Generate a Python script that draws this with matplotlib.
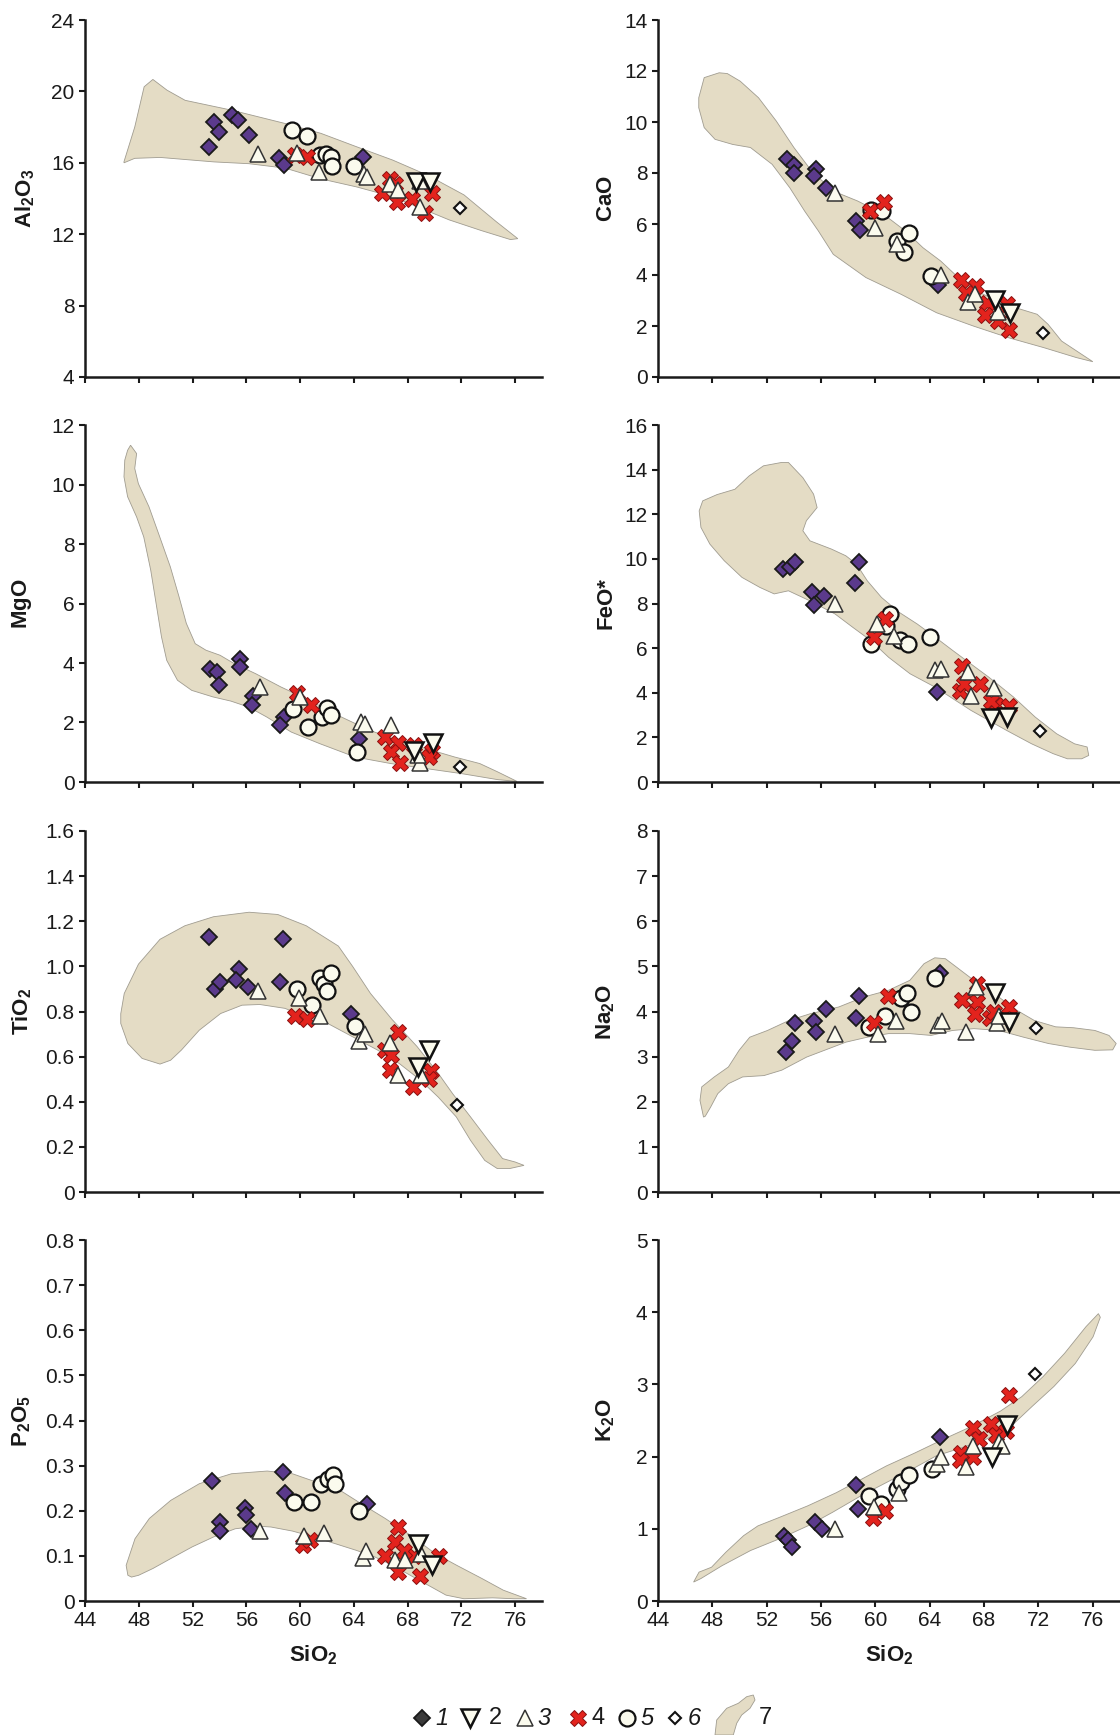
import matplotlib
matplotlib.use("Agg")
import numpy as np
from matplotlib import pyplot as plt
from matplotlib.patches import Polygon
from matplotlib.ticker import FuncFormatter

plt.rcParams['font.family'] = ['Liberation Sans', 'DejaVu Sans']
plt.rcParams['mathtext.fontset'] = 'custom'
plt.rcParams['mathtext.rm'] = 'Liberation Sans'
plt.rcParams['mathtext.bf'] = 'Liberation Sans:bold'
plt.rcParams['mathtext.it'] = 'Liberation Sans:italic'

# ---------------- data: (SiO2, oxide) per group ----------------
al2o3 = {
    1: [(53.2, 16.9), (53.6, 18.3), (54.0, 17.7), (54.9, 18.7), (55.4, 18.4), (56.2, 17.55), (58.4, 16.25), (58.8, 15.9), (64.7, 16.3)],
    5: [(59.4, 17.85), (60.5, 17.5), (61.45, 16.45), (61.9, 16.5), (62.3, 16.3), (62.35, 15.8), (64.0, 15.8)],
    4: [(59.6, 16.45), (60.5, 16.3), (66.1, 14.3), (66.7, 15.1), (67.1, 14.8), (67.2, 13.8), (68.3, 13.95), (69.3, 13.2), (69.8, 14.3)],
    3: [(56.85, 16.5), (59.8, 16.55), (61.4, 15.5), (64.75, 15.35), (65.0, 15.2), (66.7, 14.8), (67.3, 14.5), (68.9, 13.5), (68.9, 15.0)],
    2: [(68.6, 14.9), (69.7, 14.9)],
    6: [(71.9, 13.45)],
}
cao = {
    1: [(53.5, 8.55), (54.0, 8.3), (54.0, 8.0), (55.6, 8.15), (55.5, 7.9), (56.4, 7.4), (58.6, 6.1), (58.85, 5.75), (64.6, 3.6)],
    5: [(59.7, 6.55), (60.5, 6.5), (61.6, 5.35), (62.1, 4.9), (62.5, 5.65), (64.1, 3.95)],
    4: [(59.6, 6.5), (60.6, 6.85), (66.3, 3.8), (67.4, 3.55), (66.7, 3.3), (68.2, 2.9), (68.1, 2.45), (69.7, 2.85), (69.8, 1.85), (69.0, 2.2)],
    3: [(57.0, 7.2), (60.0, 5.85), (61.6, 5.2), (64.8, 4.0), (66.8, 2.95), (67.3, 3.25), (69.0, 2.55)],
    2: [(68.8, 3.0), (69.9, 2.5)],
    6: [(72.3, 1.74)],
}
mgo = {
    1: [(53.3, 3.8), (53.8, 3.7), (54.0, 3.25), (55.5, 4.15), (55.5, 3.85), (56.5, 2.9), (56.4, 2.6), (58.8, 2.2), (58.5, 1.9), (64.4, 1.45)],
    5: [(59.5, 2.45), (60.6, 1.85), (61.6, 2.2), (62.0, 2.5), (62.3, 2.25), (64.2, 1.0)],
    4: [(59.8, 3.0), (60.8, 2.6), (66.3, 1.5), (67.3, 1.3), (66.75, 1.0), (67.4, 0.65), (68.5, 1.25), (69.8, 1.05), (69.6, 0.85)],
    3: [(57.0, 3.2), (60.0, 2.85), (64.5, 2.0), (64.8, 1.95), (66.8, 1.9), (68.9, 0.65), (68.8, 0.9)],
    2: [(68.5, 1.05), (69.9, 1.3)],
    6: [(71.9, 0.5)],
}
feo = {
    1: [(53.2, 9.55), (53.7, 9.65), (54.1, 9.85), (55.3, 8.5), (55.5, 7.95), (56.2, 8.35), (58.5, 8.9), (58.8, 9.85), (64.5, 4.05)],
    5: [(59.7, 6.2), (60.8, 7.0), (61.1, 7.55), (61.8, 6.35), (62.4, 6.2), (64.0, 6.5)],
    4: [(59.9, 6.5), (60.7, 7.3), (66.4, 5.2), (66.2, 4.1), (66.5, 4.4), (67.7, 4.4), (68.9, 3.45), (69.8, 3.4), (68.5, 3.65)],
    3: [(57.0, 8.0), (60.1, 7.1), (61.4, 6.55), (64.4, 5.0), (64.8, 5.05), (66.8, 4.95), (67.0, 3.85), (68.7, 4.2)],
    2: [(68.5, 2.85), (69.65, 2.9)],
    6: [(72.1, 2.27)],
}
tio2 = {
    1: [(53.25, 1.13), (53.7, 0.9), (54.05, 0.93), (55.45, 0.99), (55.2, 0.94), (56.15, 0.91), (58.75, 1.12), (58.5, 0.93), (63.8, 0.79)],
    5: [(59.8, 0.9), (60.9, 0.83), (61.5, 0.95), (61.8, 0.92), (62.3, 0.97), (62.0, 0.89), (64.1, 0.735)],
    4: [(59.65, 0.78), (60.5, 0.765), (67.3, 0.71), (66.3, 0.63), (66.8, 0.605), (66.7, 0.54), (68.4, 0.465), (69.75, 0.535), (69.6, 0.5)],
    3: [(56.9, 0.89), (59.9, 0.86), (61.5, 0.78), (64.4, 0.67), (64.8, 0.7), (66.7, 0.66), (67.3, 0.52), (69.0, 0.52)],
    2: [(68.8, 0.555), (69.6, 0.63)],
    6: [(71.65, 0.385)],
}
na2o = {
    1: [(53.4, 3.1), (53.85, 3.35), (54.1, 3.75), (55.5, 3.8), (55.6, 3.55), (56.4, 4.05), (58.8, 4.35), (58.55, 3.85), (64.75, 4.85)],
    5: [(59.5, 3.65), (60.7, 3.9), (61.9, 4.3), (62.3, 4.4), (62.6, 4.0), (64.4, 4.75)],
    4: [(59.9, 3.75), (60.9, 4.35), (66.4, 4.25), (67.45, 4.2), (67.3, 3.95), (68.4, 3.85), (68.75, 4.0), (69.8, 4.1), (67.45, 4.6)],
    3: [(57.0, 3.5), (60.2, 3.5), (61.5, 3.8), (64.6, 3.7), (64.9, 3.8), (66.7, 3.55), (67.4, 4.55), (68.95, 3.75), (69.1, 3.9)],
    2: [(68.8, 4.4), (69.8, 3.77)],
    6: [(71.8, 3.64)],
}
p2o5 = {
    1: [(53.45, 0.265), (54.05, 0.175), (54.05, 0.155), (55.9, 0.205), (55.95, 0.19), (56.35, 0.16), (58.7, 0.285), (58.9, 0.24), (65.0, 0.215)],
    5: [(59.55, 0.22), (60.8, 0.22), (61.55, 0.26), (62.1, 0.27), (62.45, 0.28), (62.6, 0.26), (64.35, 0.2)],
    4: [(60.2, 0.125), (60.75, 0.135), (66.35, 0.1), (67.3, 0.165), (67.1, 0.13), (67.3, 0.065), (68.5, 0.1), (68.9, 0.055), (70.3, 0.1), (67.7, 0.11)],
    3: [(57.0, 0.155), (60.3, 0.145), (61.8, 0.15), (64.7, 0.095), (64.9, 0.11), (67.1, 0.09), (67.8, 0.09), (69.0, 0.105)],
    2: [(68.8, 0.127), (69.8, 0.079)],
    6: [],
}
k2o = {
    1: [(53.25, 0.9), (53.6, 0.85), (53.85, 0.75), (55.55, 1.1), (56.1, 1.0), (58.55, 1.6), (58.7, 1.28), (64.75, 2.27)],
    5: [(59.55, 1.45), (60.4, 1.35), (61.6, 1.55), (61.9, 1.65), (62.5, 1.75), (64.15, 1.83)],
    4: [(59.8, 1.15), (60.7, 1.25), (66.3, 2.05), (66.2, 1.95), (67.2, 2.0), (67.2, 2.4), (67.6, 2.25), (68.5, 2.45), (68.9, 2.3), (69.6, 2.35), (69.8, 2.85)],
    3: [(57.0, 1.0), (59.9, 1.3), (61.7, 1.5), (64.5, 1.9), (64.8, 2.0), (66.7, 1.85), (67.2, 2.15), (69.1, 2.2), (69.3, 2.15)],
    2: [(68.55, 2.0), (69.7, 2.44)],
    6: [(71.77, 3.15)],
}

# ---------------- outlines of field 7 ----------------
al2o3_field = [(46.9, 16.06), (47.7, 18.0), (48.4, 20.26), (49.05, 20.67), (50.1, 20.07), (51.45, 19.5), (54.9, 18.95),
               (58.9, 18.2), (61.55, 17.65), (64.2, 16.9), (66.9, 16.15), (69.5, 15.3), (72.2, 14.2), (74.6, 12.7),
               (76.2, 11.75), (75.65, 11.7), (73.5, 12.2), (71.1, 12.8), (69.0, 13.45), (66.9, 14.1), (64.2, 14.65),
               (61.55, 15.1), (58.9, 15.7), (56.2, 15.95), (53.6, 16.05), (49.6, 16.3), (47.7, 16.25), (46.9, 16.0)]
cao_field = [(47.0, 10.95), (47.4, 11.74), (48.5, 11.93), (49.1, 11.9), (50.05, 11.6), (51.4, 10.95), (52.7, 10.04),
             (54.0, 9.0), (55.3, 8.08), (56.9, 7.29), (58.7, 6.9), (60.6, 6.38), (62.2, 5.73), (63.5, 5.07), (64.8, 4.55),
             (66.1, 3.9), (67.95, 3.24), (70.3, 2.72), (71.9, 2.46), (72.7, 2.07), (73.7, 1.41), (76.0, 0.6), (74.8, 0.76),
             (72.4, 1.15), (69.8, 1.54), (67.2, 2.0), (64.5, 2.52), (61.9, 3.24), (59.3, 3.9), (56.9, 4.81), (55.8, 5.73),
             (54.8, 6.5), (53.7, 7.42), (52.4, 8.34), (50.8, 9.0), (49.5, 9.12), (48.2, 9.32), (47.4, 9.78), (47.0, 10.56)]
mgo_field = [(47.39, 11.32), (47.84, 11.04), (47.7, 10.54), (47.97, 10.03), (48.76, 9.25), (49.56, 8.24), (50.35, 7.23),
             (51.0, 6.22), (51.54, 5.33), (52.2, 4.65), (53.0, 4.43), (54.05, 4.26), (55.1, 3.98), (56.7, 3.64),
             (58.55, 3.2), (60.67, 2.75), (63.05, 2.19), (65.16, 1.74), (67.28, 1.4), (69.4, 1.12), (71.5, 0.84),
             (73.37, 0.62), (74.7, 0.34), (76.14, 0.02), (74.7, 0.08), (72.04, 0.28), (69.4, 0.45), (66.75, 0.62),
             (64.1, 0.84), (61.46, 1.29), (59.34, 1.68), (57.5, 2.19), (56.17, 2.52), (54.85, 2.72), (53.52, 2.86),
             (51.94, 3.08), (50.88, 3.42), (50.08, 4.09), (49.69, 4.88), (49.29, 6.0), (48.89, 7.12), (48.37, 8.24),
             (47.84, 8.91), (47.17, 9.59), (46.9, 10.26), (46.96, 10.82), (47.17, 11.15)]
feo_field = [(47.03, 12.15), (47.29, 12.6), (48.34, 12.88), (49.66, 13.12), (50.71, 13.72), (51.76, 14.17), (53.08, 14.32),
             (53.6, 14.32), (54.66, 13.64), (55.45, 12.9), (55.71, 12.3), (54.92, 11.71), (54.66, 11.26), (55.18, 10.81),
             (56.76, 10.44), (57.82, 10.14), (58.6, 9.77), (59.4, 9.02), (60.45, 8.27), (61.76, 7.6), (63.08, 7.08),
             (64.4, 6.49), (65.7, 5.89), (67.03, 5.29), (68.34, 4.7), (70.18, 3.8), (71.76, 2.91), (73.34, 2.16),
             (74.66, 1.71), (75.58, 1.57), (75.7, 1.19), (75.18, 1.04), (74.13, 1.04), (73.08, 1.27), (71.5, 1.71),
             (69.66, 2.31), (67.03, 3.21), (64.4, 4.25), (62.55, 4.85), (60.97, 5.59), (59.66, 6.34), (58.34, 6.93),
             (57.03, 7.53), (55.18, 8.12), (53.6, 8.57), (52.55, 8.43), (51.5, 8.72), (50.18, 9.17), (48.87, 9.92),
             (47.82, 10.66), (47.16, 11.41)]
tio2_field = [(46.66, 0.79), (46.92, 0.88), (47.98, 1.01), (49.58, 1.12), (51.43, 1.18), (53.56, 1.22), (56.21, 1.24),
              (58.34, 1.23), (60.46, 1.18), (62.85, 1.09), (63.91, 1.0), (65.24, 0.88), (66.84, 0.765), (68.7, 0.645),
              (70.29, 0.525), (71.35, 0.436), (72.68, 0.333), (74.0, 0.229), (75.07, 0.148), (76.0, 0.133),
              (76.66, 0.118), (75.6, 0.104), (74.67, 0.104), (73.74, 0.14), (72.68, 0.229), (71.62, 0.333),
              (70.29, 0.42), (68.96, 0.496), (67.37, 0.57), (65.77, 0.629), (63.91, 0.688), (62.06, 0.747),
              (60.46, 0.777), (58.87, 0.814), (57.01, 0.831), (55.68, 0.828), (54.09, 0.791), (52.5, 0.717),
              (51.17, 0.629), (50.37, 0.584), (49.58, 0.567), (48.25, 0.592), (47.19, 0.658), (46.66, 0.747)]
na2o_field = [(47.35, 1.66), (47.09, 2.03), (47.22, 2.33), (48.14, 2.55), (49.18, 2.77), (49.97, 3.14), (50.75, 3.43),
              (52.06, 3.58), (53.63, 3.8), (55.2, 3.95), (57.3, 4.1), (59.13, 4.32), (60.96, 4.47), (62.53, 4.69),
              (63.58, 5.06), (64.37, 5.19), (65.15, 5.17), (65.94, 4.99), (67.25, 4.69), (69.08, 4.32), (70.39, 4.03),
              (71.7, 3.8), (73.27, 3.66), (74.58, 3.64), (76.15, 3.58), (77.19, 3.47), (77.72, 3.29), (77.46, 3.15),
              (76.15, 3.14), (74.31, 3.21), (72.74, 3.29), (70.91, 3.43), (69.08, 3.58), (67.25, 3.62), (65.68, 3.58),
              (64.1, 3.47), (62.53, 3.51), (60.96, 3.51), (59.39, 3.43), (57.82, 3.32), (56.25, 3.14), (54.94, 2.99),
              (53.11, 2.7), (51.8, 2.58), (50.23, 2.55), (49.18, 2.4), (48.4, 2.18), (47.87, 1.88), (47.48, 1.68)]
p2o5_field = [(47.19, 0.057), (47.06, 0.079), (47.72, 0.138), (48.79, 0.183), (50.38, 0.223), (52.51, 0.26), (54.9, 0.282),
              (57.56, 0.288), (59.43, 0.282), (61.55, 0.26), (63.15, 0.242), (64.74, 0.212), (66.33, 0.183),
              (68.2, 0.146), (70.06, 0.105), (71.66, 0.079), (73.52, 0.05), (75.12, 0.024), (76.85, 0.005),
              (75.91, 0.005), (74.32, 0.007), (72.19, 0.005), (70.86, 0.013), (69.53, 0.035), (68.2, 0.057),
              (66.87, 0.079), (65.54, 0.098), (64.21, 0.112), (62.62, 0.127), (61.02, 0.142), (59.43, 0.155),
              (57.83, 0.164), (56.77, 0.166), (55.17, 0.16), (53.57, 0.142), (51.98, 0.12), (50.38, 0.094),
              (49.05, 0.072), (47.99, 0.057), (47.46, 0.053)]
k2o_field = [(46.62, 0.262), (47.02, 0.4), (47.94, 0.468), (48.99, 0.675), (50.3, 0.905), (51.35, 1.04), (52.92, 1.157),
             (55.02, 1.318), (57.12, 1.5), (58.96, 1.685), (60.8, 1.87), (62.9, 2.05), (65.0, 2.24), (67.1, 2.42),
             (69.2, 2.63), (70.77, 2.83), (72.35, 3.11), (73.92, 3.43), (75.5, 3.8), (76.41, 3.98), (76.55, 3.93),
             (76.02, 3.66), (74.71, 3.29), (73.13, 2.97), (71.56, 2.7), (69.98, 2.42), (68.15, 2.24), (66.31, 2.12),
             (64.47, 2.01), (62.64, 1.82), (60.8, 1.64), (58.96, 1.46), (56.86, 1.23), (55.02, 1.04), (52.92, 0.86),
             (50.82, 0.7), (48.72, 0.49), (47.15, 0.31)]

xticks = [44, 48, 52, 56, 60, 64, 68, 72, 76]
legend_labels = ['1', '2', '3', '4', '5', '6', '7']

# ---------------- styles ----------------
FIELD = '#e4dcc5'
CREAM = '#fbfbee'
STYLE = {
    1: dict(marker='D', ms=8.5, mfc='#5b3a8c', mec='#1a1a1a', mew=1.3),
    5: dict(marker='o', ms=11.5, mfc=CREAM, mec='#111111', mew=1.6),
    4: dict(marker='X', ms=12, mfc='#e3231d', mec='#8a1010', mew=0.7),
    3: dict(marker='^', ms=11.5, mfc=CREAM, mec='#333333', mew=1.1),
    2: dict(marker='v', ms=13, mfc=CREAM, mec='#111111', mew=1.8),
    6: dict(marker='D', ms=6.5, mfc='white', mec='#111111', mew=1.5),
}
order = [1, 5, 4, 3, 2, 6]

W, H = 1120, 1735
fig = plt.figure(figsize=(W / 100, H / 100), dpi=100)

cols = [(85, 457), (658, 462)]
rows = [(20, 377), (425, 782), (831, 1192), (1240, 1601)]

panels = [
    (0, 0, al2o3, al2o3_field, (4, 24), [4, 8, 12, 16, 20, 24], 0, r'$\mathbf{Al_2O_3}$', -60),
    (0, 1, cao, cao_field, (0, 14), list(range(0, 15, 2)), 0, r'$\mathbf{CaO}$', -52),
    (1, 0, mgo, mgo_field, (0, 12), list(range(0, 13, 2)), 0, r'$\mathbf{MgO}$', -63),
    (1, 1, feo, feo_field, (0, 16), list(range(0, 17, 2)), 0, 'FeO*', -52),
    (2, 0, tio2, tio2_field, (0, 1.6), [0, 0.2, 0.4, 0.6, 0.8, 1.0, 1.2, 1.4, 1.6], 1, r'$\mathbf{TiO_2}$', -63),
    (2, 1, na2o, na2o_field, (0, 8), list(range(0, 9)), 0, r'$\mathbf{Na_2O}$', -52),
    (3, 0, p2o5, p2o5_field, (0, 0.8), [0, 0.1, 0.2, 0.3, 0.4, 0.5, 0.6, 0.7, 0.8], 1, r'$\mathbf{P_2O_5}$', -63),
    (3, 1, k2o, k2o_field, (0, 5), list(range(0, 6)), 0, r'$\mathbf{K_2O}$', -52),
]


def make_fmt(decimals):
    def f(v, pos):
        if abs(v) < 1e-12:
            return '0'
        return '%.*f' % (decimals, v)
    return FuncFormatter(f)


for r, c, data, field, ylim, yticks, dec, label, lab_off in panels:
    x0, w = cols[c]
    top, bot = rows[r]
    ax = fig.add_axes([x0 / W, 1 - bot / H, w / W, (bot - top) / H])
    ax.add_patch(Polygon(field, closed=True, facecolor=FIELD, edgecolor='#a09c90', lw=0.6, zorder=1))
    for g in order:
        pts = data[g]
        if not pts:
            continue
        xs = [p[0] for p in pts]
        ys = [p[1] for p in pts]
        ax.plot(xs, ys, ls='none', zorder=2 + order.index(g), **STYLE[g])
    ax.set_xlim(44, 78)
    ax.set_ylim(*ylim)
    ax.set_xticks(xticks)
    ax.set_yticks(yticks)
    ax.yaxis.set_major_formatter(make_fmt(dec))
    for s in ['top', 'right']:
        ax.spines[s].set_visible(False)
    for s in ['left', 'bottom']:
        ax.spines[s].set_linewidth(1.8)
        ax.spines[s].set_color('#1a1a1a')
    ax.tick_params(direction='out', length=4.5, width=1.5, labelsize=15, colors='#1a1a1a', pad=3)
    if r < 3:
        ax.tick_params(axis='x', labelbottom=False)
    else:
        ax.text(0.5, -0.15, r'$\mathbf{SiO_2}$', transform=ax.transAxes, ha='center', va='center', fontsize=16,
                color='#1a1a1a')
    ax.text(lab_off / w, 0.5, label, transform=ax.transAxes, rotation=90, ha='center', va='center',
            fontsize=16, fontweight='bold', color='#1a1a1a')

# ---------------- legend along the bottom ----------------
lg = fig.add_axes([0, 0, 1, 60 / H])
lg.set_xlim(0, W)
lg.set_ylim(0, 60)
lg.axis('off')
leg_marks = [
    (422, dict(STYLE[1], mfc='#3a3a3a')),
    (470, STYLE[2]),
    (525, STYLE[3]),
    (578, STYLE[4]),
    (627, STYLE[5]),
    (675, STYLE[6]),
]
for (xm, st), lab, xt, ital in zip(leg_marks, legend_labels[:6], [442, 495, 544, 598, 647, 694],
                                   [True, False, True, False, True, True]):
    lg.plot([xm], [17], ls='none', clip_on=False, **st)
    lg.text(xt, 17, lab, ha='center', va='center', fontsize=17, style='italic' if ital else 'normal',
            color='#1a1a1a')
blob = [(715, 0), (716.7, 15), (726.7, 26.7), (738.3, 31.7), (746.7, 38.3), (753.3, 40), (755, 35),
        (750, 26.7), (741.7, 20), (736.7, 11.7), (733.3, 0)]
lg.add_patch(Polygon(blob, closed=True, facecolor=FIELD, edgecolor='#a09c90', lw=0.6, clip_on=False))
lg.text(765, 17, legend_labels[6], ha='center', va='center', fontsize=17, color='#1a1a1a')

fig.savefig('out.png', dpi=100)
